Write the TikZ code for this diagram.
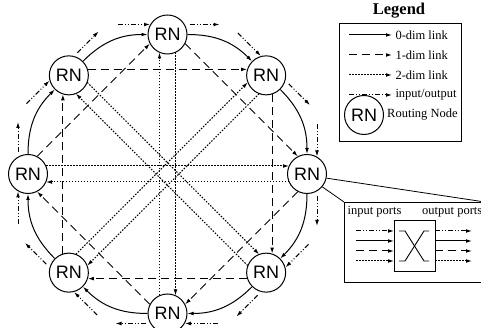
\documentclass[tikz,border=0pt]{standalone}
\usepackage{fontspec}
\setmainfont{Liberation Serif}
\setsansfont{Liberation Sans}
\usetikzlibrary{arrows.meta,calc}

\begin{document}
\begin{tikzpicture}[x=1pt, y=1pt, >={Latex[length=6pt,width=3.8pt]},
    rn/.style={circle, draw, line width=1pt, minimum size=39pt, inner sep=0pt, fill=white, font=\sffamily\fontsize{18}{20}\selectfont},
    zerolink/.style={->, line width=1pt},
    onelink/.style={->, line width=1pt, dash pattern=on 8pt off 5pt},
    twolink/.style={->, line width=1pt, dash pattern=on 1.5pt off 1.5pt},
    iolink/.style={->, line width=1pt, dash pattern=on 5pt off 2pt on 1pt off 2pt on 1pt off 2pt},
    txt/.style={font=\fontsize{12.5}{14}\selectfont, inner sep=0pt}]
    \def\ringRadius{139.5}

    \clip (0,0) rectangle (481,328);

    % Define centre of the ring
    \coordinate (C) at (167.5,154);

    % Draw routing nodes
    \foreach \a in {0,45,...,315}
        \node[rn] (n\a) at ($(C)+(\a:\ringRadius pt)$) {RN};

    % Draw 0-dim links around the ring
    \foreach \a/\b in {180/135,135/90,90/45,45/0,0/315,315/270,270/225,225/180}
        \draw[zerolink] (n\a) to[bend left=22.5] (n\b);

    % Draw 1-dim links
    \foreach \a/\b in {180/90,90/0,0/270,270/180,135/45,45/315,315/225,225/135}
        \draw[onelink, shorten <=19pt, shorten >=19pt] ($(n\a)!6pt!90:(n\b)$) -- ($(n\b)!6pt!-90:(n\a)$);

    % Draw 2-dim links
    \foreach \a in {0,45,...,315} {
        \pgfmathtruncatemacro\b{mod(\a+180,360)}
        \draw[twolink, shorten <=18pt, shorten >=18pt] ($(n\a)!8pt!90:(n\b)$) -- ($(n\b)!8pt!-90:(n\a)$);
    }

    % Draw input/output links
    \foreach \a in {0,45,...,315} {
        \draw[iolink] ($(n\a)+(\a:10pt)+(\a+90:50pt)$) -- ($(n\a)+(\a:10pt)+(\a+90:17.5pt)$);
        \draw[iolink] ($(n\a)+(\a:10pt)+(\a-90:22pt)$) -- ($(n\a)+(\a:10pt)+(\a-90:52pt)$);
    }

    % Legend
    \node[font=\bfseries\fontsize{16.5}{18}\selectfont] (legtitle) at (399,317) {Legend};
    \draw[line width=1pt] (339,186) rectangle (461,304);
    \foreach \y/\s/\t in {293/zerolink/0-dim link, 273/onelink/1-dim link, 253/twolink/2-dim link, 233/iolink/{input/output}}
        \draw[\s] (349,\y) -- (392,\y) node[txt, anchor=west, xshift=3pt] {\t};
    \node[rn] (legrn) at (364,213) {RN};
    \node[txt, anchor=west, xshift=3pt] (legrntext) at (legrn.east) {Routing Node};

    % Zoomed view of one routing node
    \node[draw, line width=1pt, anchor=north west, minimum width=140pt, minimum height=80pt] (inset) at (344,126) {};
    \draw[line width=0.8pt] (n0.-12) -- (inset.north east);
    \draw[line width=0.8pt] (n0.-40) -- (inset.north west);
    \node[txt] (inports) at (374.5,116) {input ports};
    \node[txt, anchor=west] (outports) at (422,116) {output ports};
    \node[draw, line width=1pt, minimum width=41pt, minimum height=51pt, inner sep=0pt] (switch) at (414.5,81.5) {};
    \foreach \y/\s in {97/iolink, 87/zerolink, 77/onelink, 67/twolink} {
        \draw[\s] (356,\y) -- (394,\y);
        \draw[\s] (435,\y) -- (472,\y);
    }
    \draw[line width=0.9pt] (399,97) -- (405,97) -- (424,67) -- (429,67);
    \draw[line width=0.9pt] (429,97) -- (424,97) -- (405,67) -- (399,67);

\end{tikzpicture}
\end{document}
